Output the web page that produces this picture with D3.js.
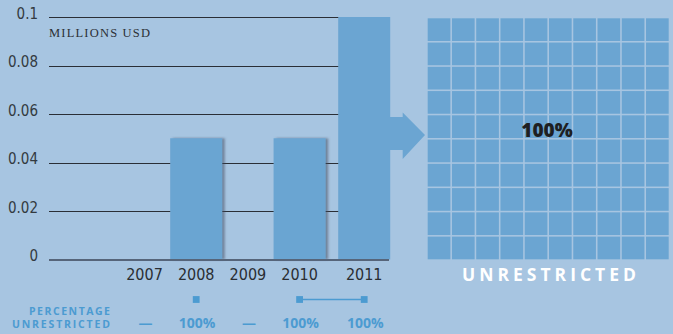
<!DOCTYPE html>
<html><head><meta charset="utf-8">
<script src="https://cdn.jsdelivr.net/npm/d3@7"></script>
<style>
html,body{margin:0;padding:0;background:#a7c5e1;}
svg{display:block;}
</style></head>
<body>
<script>
// ---- data ----
const years = ["2007", "2008", "2009", "2010", "2011"];
const values = [0, 0.05, 0, 0.05, 0.1];
const pctLabels = ["—", "100%", "—", "100%", "100%"];
const pctMarkers = [null, 1, null, 1, 1];
const yTicks = [0, 0.02, 0.04, 0.06, 0.08, 0.1];
const yTickLabels = ["0", "0.02", "0.04", "0.06", "0.08", "0.1"];
const slotIndex = [0, 1, 2, 3, 4.25];
const unrestrictedShare = 100;
const gridCells = d3.range(100);

const W = 673, H = 334;
const bg = "#a7c5e1", barColor = "#6ba5d2", legendBlue = "#4c9bd1";

const svg = d3.select("body").append("svg").attr("width", W).attr("height", H);
svg.append("rect").attr("width", W).attr("height", H).attr("fill", bg);

const defs = svg.append("defs");
const f = defs.append("filter").attr("id", "sh").attr("x", "-20%").attr("y", "-20%").attr("width", "150%").attr("height", "140%");
f.append("feDropShadow").attr("dx", 2.5).attr("dy", 0).attr("stdDeviation", 1.3)
  .attr("flood-color", "#3d4a5c").attr("flood-opacity", 0.55);

const x = d3.scaleLinear().domain([0, 4.25]).range([144.5, 364.2]);
const y = d3.scaleLinear().domain([0, 0.1]).range([259.5, 17]);
const barW = 52;

// gridlines
const gx0 = 49, gx1 = 389;
svg.append("g").selectAll("line").data(yTicks.filter(d => d > 0)).join("line")
  .attr("x1", gx0).attr("x2", gx1)
  .attr("y1", d => Math.round(y(d)) + 0.5).attr("y2", d => Math.round(y(d)) + 0.5)
  .attr("stroke", "#2a2f36").attr("stroke-width", 1.1);

// y tick labels
svg.append("g").selectAll("text").data(yTicks).join("text")
  .attr("x", 38).attr("y", d => y(d) + 1.5)
  .attr("text-anchor", "end")
  .attr("font-family", "'Liberation Sans Narrow','DejaVu Sans Condensed',sans-serif")
  .attr("font-size", 15).attr("fill", "#333a40")
  .text((d, i) => yTickLabels[i]);

svg.append("text").attr("x", 49).attr("y", 37)
  .attr("font-family", "'Liberation Serif','DejaVu Serif',serif")
  .attr("font-size", 12.5).attr("fill", "#2c3035")
  .attr("textLength", 101).attr("lengthAdjust", "spacing")
  .text("MILLIONS USD");

// bars
const barData = years.map((yr, i) => ({ yr, v: values[i], s: slotIndex[i] }));
svg.append("g").selectAll("rect").data(barData.filter(d => d.v > 0)).join("rect")
  .attr("x", d => x(d.s) - barW / 2).attr("width", barW)
  .attr("y", d => y(d.v)).attr("height", d => y(0) - y(d.v))
  .attr("fill", barColor)
  .attr("filter", d => d.yr === "2011" ? null : "url(#sh)");

// baseline
svg.append("line").attr("x1", gx0).attr("x2", gx1)
  .attr("y1", y(0) + 0.5).attr("y2", y(0) + 0.5)
  .attr("stroke", "#56657a").attr("stroke-width", 1.8);

// year labels
svg.append("g").selectAll("text").data(barData).join("text")
  .attr("x", d => x(d.s)).attr("y", 279.5)
  .attr("text-anchor", "middle")
  .attr("font-family", "'Liberation Sans Narrow','DejaVu Sans Condensed',sans-serif")
  .attr("font-size", 16).attr("fill", "#2a2e33")
  .text(d => d.yr);

// arrow
const ax0 = 390, axShaft = 402.7, axTip = 425, ayMid = 135;
svg.append("path")
  .attr("d", `M${ax0},117 L${axShaft},117 L${axShaft},112.5 L${axTip},${ayMid} L${axShaft},159 L${axShaft},150 L${ax0},150 Z`)
  .attr("fill", barColor);

// waffle grid
const gxScale = d3.scaleBand().domain(d3.range(10)).range([427.7, 668.7]).paddingInner(0.065);
const gyScale = d3.scaleBand().domain(d3.range(10)).range([18.3, 259.3]).paddingInner(0.065);
svg.append("g").selectAll("rect").data(gridCells).join("rect")
  .attr("x", d => gxScale(d % 10)).attr("y", d => gyScale(Math.floor(d / 10)))
  .attr("width", gxScale.bandwidth()).attr("height", gyScale.bandwidth())
  .attr("fill", (d) => d < unrestrictedShare ? barColor : bg);

svg.append("text").attr("x", 547).attr("y", 137)
  .attr("text-anchor", "middle")
  .attr("font-family", "'Open Sans','DejaVu Sans',sans-serif")
  .attr("font-weight", 800).attr("font-size", 19).attr("fill", "#1e1f22")
  .text(unrestrictedShare + "%");

svg.append("text").attr("x", 462).attr("y", 281)
  .attr("font-family", "'Open Sans','DejaVu Sans',sans-serif")
  .attr("font-weight", 700).attr("font-size", 17.5).attr("fill", "#ffffff")
  .attr("textLength", 174).attr("lengthAdjust", "spacing")
  .text("UNRESTRICTED");

// legend row
const lg = svg.append("g");
lg.append("text").attr("x", 110).attr("y", 314.5).attr("text-anchor", "end")
  .attr("font-family", "'Open Sans','DejaVu Sans',sans-serif").attr("font-weight", 700)
  .attr("font-size", 10.5).attr("fill", legendBlue)
  .attr("textLength", 81).attr("lengthAdjust", "spacing")
  .text("PERCENTAGE");
lg.append("text").attr("x", 110).attr("y", 328).attr("text-anchor", "end")
  .attr("font-family", "'Open Sans','DejaVu Sans',sans-serif").attr("font-weight", 700)
  .attr("font-size", 10.5).attr("fill", legendBlue)
  .attr("textLength", 98).attr("lengthAdjust", "spacing")
  .text("UNRESTRICTED");

const markerPts = barData.map((d, i) => ({ s: d.s, m: pctMarkers[i] })).filter(d => d.m !== null);
const my = 299.5;
// connecting line for consecutive points
for (let i = 1; i < markerPts.length; i++) {
  const prevIdx = slotIndex.indexOf(markerPts[i - 1].s), curIdx = slotIndex.indexOf(markerPts[i].s);
  if (curIdx - prevIdx === 1) {
    lg.append("line").attr("x1", x(markerPts[i - 1].s)).attr("x2", x(markerPts[i].s))
      .attr("y1", my).attr("y2", my).attr("stroke", legendBlue).attr("stroke-width", 1.5);
  }
}
lg.selectAll("rect.m").data(markerPts).join("rect").attr("class", "m")
  .attr("x", d => x(d.s) - 3.4).attr("y", my - 3.4).attr("width", 6.8).attr("height", 6.8)
  .attr("fill", legendBlue);

lg.selectAll("text.v").data(barData).join("text").attr("class", "v")
  .attr("x", d => x(d.s) + 1).attr("y", 327.5).attr("text-anchor", "middle")
  .attr("font-family", "'Open Sans','DejaVu Sans',sans-serif").attr("font-weight", 700)
  .attr("font-size", 14).attr("fill", legendBlue)
  .text((d, i) => pctLabels[i]);
</script>
</body></html>
